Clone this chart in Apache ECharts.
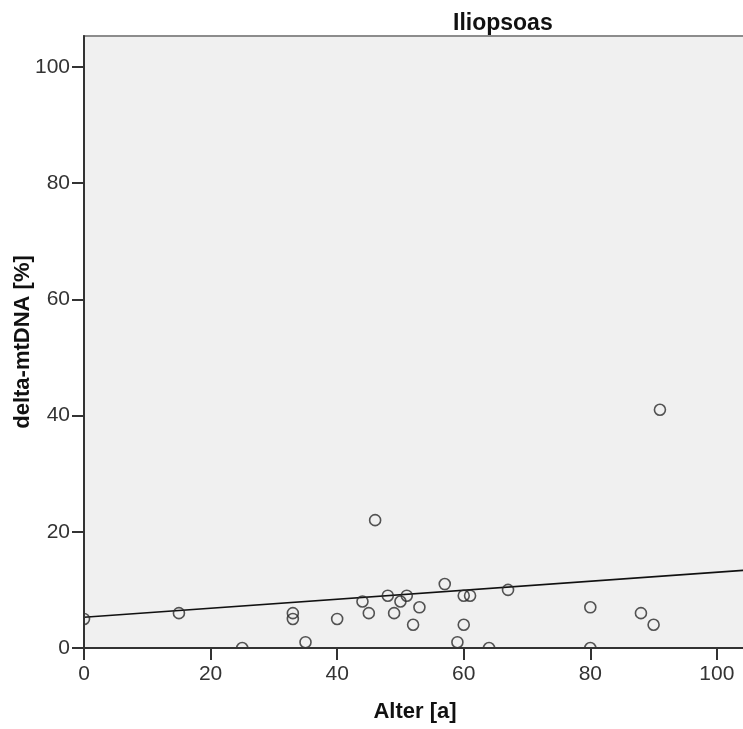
<!DOCTYPE html>
<html>
<head>
<meta charset="utf-8">
<script src="https://cdn.jsdelivr.net/npm/echarts@6/dist/echarts.min.js"></script>
<style>
html,body{margin:0;padding:0;background:#fff;}
#chart{width:743px;height:729px;}
</style>
</head>
<body>
<div id="chart"></div>
<script>
// Data
const ageValues = [0,15,25,33,33,35,40,44,45,46,48,49,50,51,52,53,57,60,61,60,59,64,67,80,80,88,90,91];
const mtdnaValues = [5,6,0,6,5,1,5,8,6,22,9,6,8,9,4,7,11,9,9,4,1,0,10,7,0,6,4,41];
// Fit line endpoints
const fitX = [0, 104.6];
const fitY = [5.3, 13.4];
const xTicks = [0,20,40,60,80,100];
const yTicks = [0,20,40,60,80,100];
const titleText = 'Iliopsoas';
const xName = 'Alter [a]';
const yName = 'delta-mtDNA [%]';

const scatterData = ageValues.map((x, i) => [x, mtdnaValues[i]]);
const fitData = fitX.map((x, i) => [x, fitY[i]]);

const chart = echarts.init(document.getElementById('chart'), null, {renderer: 'canvas'});
const FONT = 'Liberation Sans, Arial, sans-serif';
chart.setOption({
  animation: false,
  backgroundColor: '#ffffff',
  title: {
    text: titleText,
    left: 448,
    top: 7,
    textStyle: {fontFamily: FONT, fontSize: 23, fontWeight: 'bold', color: '#111'}
  },
  grid: {
    left: 84, top: 36, right: -3, bottom: 81,
    outerBoundsMode: 'none',
    containLabel: false,
    show: true,
    backgroundColor: '#f0f0f0',
    borderColor: '#8c8c8c',
    borderWidth: 2
  },
  xAxis: {
    type: 'value',
    min: 0, max: 104.6, interval: 20,
    z: 5,
    name: xName,
    nameLocation: 'middle',
    nameGap: 53,
    nameMoveOverlap: false,
    nameTextStyle: {fontFamily: FONT, fontSize: 22, fontWeight: 'bold', color: '#111'},
    axisLine: {show: true, onZero: false, lineStyle: {color: '#333', width: 2}},
    axisTick: {show: true, inside: false, length: 12, customValues: xTicks, lineStyle: {color: '#333', width: 2}},
    axisLabel: {
      margin: 16, fontFamily: FONT, fontSize: 21, color: '#333',
      customValues: xTicks,
      formatter: v => xTicks.includes(v) ? String(v) : ''
    },
    splitLine: {show: false}
  },
  yAxis: {
    type: 'value',
    min: 0, max: 105.3, interval: 20,
    z: 5,
    name: yName,
    nameLocation: 'middle',
    nameGap: 50,
    nameMoveOverlap: false,
    nameRotate: 90,
    nameTextStyle: {fontFamily: FONT, fontSize: 22, fontWeight: 'bold', color: '#111'},
    axisLine: {show: true, onZero: false, lineStyle: {color: '#333', width: 2}},
    axisTick: {show: true, inside: false, length: 12, customValues: yTicks, lineStyle: {color: '#333', width: 2}},
    axisLabel: {
      margin: 14, fontFamily: FONT, fontSize: 21, color: '#333',
      customValues: yTicks,
      formatter: v => yTicks.includes(v) ? String(v) : ''
    },
    splitLine: {show: false}
  },
  graphic: [
    {type: 'rect', z: 3, shape: {x: 0, y: 649, width: 743, height: 80}, style: {fill: '#ffffff'}, silent: true},
    {type: 'rect', z: 3, shape: {x: 0, y: 30, width: 83, height: 619}, style: {fill: '#ffffff'}, silent: true}
  ],
  series: [
    {
      type: 'line',
      data: fitData,
      z: 2,
      symbol: 'none',
      lineStyle: {color: '#111', width: 1.6},
      clip: true
    },
    {
      type: 'scatter',
      data: scatterData,
      z: 2,
      symbol: 'circle',
      symbolSize: 11,
      clip: false,
      itemStyle: {color: 'rgba(0,0,0,0)', borderColor: '#2a2a2a', borderWidth: 1.6}
    }
  ]
});
</script>
</body>
</html>
